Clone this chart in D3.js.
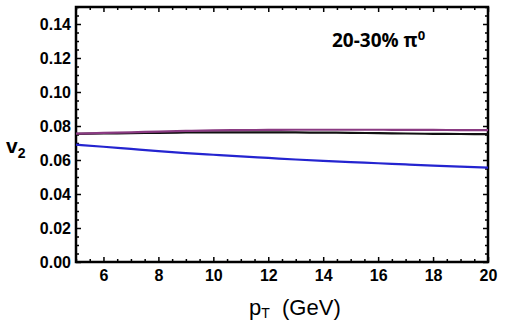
<!DOCTYPE html>
<html>
<head>
<meta charset="utf-8">
<script src="https://cdn.jsdelivr.net/npm/d3@7"></script>
<style>
  body { margin: 0; background: #fff; }
  text { font-family: "Liberation Sans", Arial, sans-serif; }
</style>
</head>
<body>
<div id="chart"></div>
<script>
// Curves (pT in GeV, v2)
var ptValues = [5, 6, 7, 8, 9, 10, 11, 12, 13, 14, 15, 16, 17, 18, 19, 20];
var v2Black  = [0.0754, 0.0756, 0.0758, 0.0760, 0.0762, 0.0763, 0.0763, 0.0763, 0.0762, 0.0761, 0.0760, 0.0758, 0.0756, 0.0754, 0.0753, 0.0752];
var v2Purple = [0.0755, 0.0759, 0.0763, 0.0767, 0.0771, 0.0774, 0.0776, 0.0777, 0.0778, 0.0778, 0.0778, 0.0778, 0.0777, 0.0777, 0.0776, 0.0776];
var v2Blue   = [0.0690, 0.0678, 0.0665, 0.0652, 0.0641, 0.0631, 0.0621, 0.0612, 0.0603, 0.0595, 0.0588, 0.0581, 0.0574, 0.0567, 0.0561, 0.0555];

var xTicks = [6, 8, 10, 12, 14, 16, 18, 20];
var yTicks = [0.00, 0.02, 0.04, 0.06, 0.08, 0.10, 0.12, 0.14];

var svgWidth = 505;
var svgHeight = 327;

var margin = { top: 7, right: 17, bottom: 65, left: 76 };
var chartWidth = svgWidth - margin.left - margin.right;
var chartHeight = svgHeight - margin.top - margin.bottom;

var svg = d3.select("#chart")
  .append("svg")
    .attr("width", svgWidth)
    .attr("height", svgHeight);

var g = svg.append("g")
  .attr("transform", `translate(${margin.left}, ${margin.top})`);

var x = d3.scaleLinear().domain([5, 20]).range([0, chartWidth]);
var y = d3.scaleLinear().domain([0, 0.15]).range([chartHeight, 0]);

// minor tick positions
var xMinor = d3.range(5, 20.001, 0.5);
var yMinor = d3.range(0, 0.1501, 0.005);

function isMajor(v, list) {
  return list.some(t => Math.abs(t - v) < 1e-6);
}

// bottom axis
g.append("g")
  .attr("transform", `translate(0, ${chartHeight})`)
  .call(d3.axisBottom(x).tickValues(xMinor)
    .tickSize(0)
    .tickFormat(""))
  .call(a => a.select(".domain").remove())
  .call(a => a.selectAll(".tick line")
    .attr("y2", d => isMajor(d, xTicks) ? -5 : -3)
    .attr("stroke", "#000").attr("stroke-width", 1.5));

g.append("g")
  .attr("transform", `translate(0, ${chartHeight})`)
  .call(d3.axisBottom(x).tickValues(xTicks).tickSize(0).tickPadding(8)
    .tickFormat(d3.format("d")))
  .call(a => a.select(".domain").remove())
  .call(a => a.selectAll("text")
    .attr("font-size", "16px").attr("font-weight", "bold")
    .attr("fill", "#000").style("font-family", "Liberation Sans, Arial, sans-serif"));

// top ticks
g.append("g")
  .call(d3.axisTop(x).tickValues(xMinor).tickSize(0).tickFormat(""))
  .call(a => a.select(".domain").remove())
  .call(a => a.selectAll(".tick line")
    .attr("y2", d => isMajor(d, xTicks) ? 5 : 3)
    .attr("stroke", "#000").attr("stroke-width", 1.5));

// left axis
g.append("g")
  .call(d3.axisLeft(y).tickValues(yMinor).tickSize(0).tickFormat(""))
  .call(a => a.select(".domain").remove())
  .call(a => a.selectAll(".tick line")
    .attr("x2", d => isMajor(d, yTicks) ? 5 : 3)
    .attr("stroke", "#000").attr("stroke-width", 1.5));

g.append("g")
  .call(d3.axisLeft(y).tickValues(yTicks).tickSize(0).tickPadding(5)
    .tickFormat(d3.format(".2f")))
  .call(a => a.select(".domain").remove())
  .call(a => a.selectAll("text")
    .attr("font-size", "16px").attr("font-weight", "bold")
    .attr("fill", "#000").style("font-family", "Liberation Sans, Arial, sans-serif"));

// right ticks
g.append("g")
  .attr("transform", `translate(${chartWidth}, 0)`)
  .call(d3.axisRight(y).tickValues(yMinor).tickSize(0).tickFormat(""))
  .call(a => a.select(".domain").remove())
  .call(a => a.selectAll(".tick line")
    .attr("x2", d => isMajor(d, yTicks) ? -5 : -3)
    .attr("stroke", "#000").attr("stroke-width", 1.5));

// frame
g.append("rect")
  .attr("x", 0).attr("y", 0)
  .attr("width", chartWidth).attr("height", chartHeight)
  .attr("fill", "none")
  .attr("stroke", "#000")
  .attr("stroke-width", 2.5);

// curves
var line = d3.line()
  .x((d, i) => x(ptValues[i]))
  .y(d => y(d))
  .curve(d3.curveMonotoneX);

var series = [
  { values: v2Black, color: "#111111" },
  { values: v2Purple, color: "#8a3a82" },
  { values: v2Blue, color: "#2424d0" }
];

g.selectAll(".curve")
  .data(series)
  .enter()
  .append("path")
  .attr("class", "curve")
  .attr("d", d => line(d.values))
  .attr("fill", "none")
  .attr("stroke", d => d.color)
  .attr("stroke-width", 2.2);

// label inside the plot
var label = g.append("text")
  .attr("x", 256)
  .attr("y", 40)
  .attr("font-size", "19px")
  .attr("font-weight", "bold")
  .style("font-family", "Open Sans, Liberation Sans, sans-serif");
label.append("tspan").text("20-30% \u03C0");
label.append("tspan").attr("dy", -7).attr("font-size", "13px").text("0");

// x axis title
var xTitle = svg.append("text")
  .attr("x", 249)
  .attr("y", 315)
  .attr("font-size", "22px");
xTitle.append("tspan").text("p");
xTitle.append("tspan").attr("dy", 3).attr("font-size", "14px").text("T");
xTitle.append("tspan").attr("dy", -3).text("\u00A0 (GeV)");

// y axis title
var yTitle = svg.append("text")
  .attr("x", 6)
  .attr("y", 153)
  .attr("font-size", "21px")
  .attr("font-weight", "bold");
yTitle.append("tspan").text("v");
yTitle.append("tspan").attr("dy", 5).attr("font-size", "14px").text("2");
</script>
</body>
</html>
